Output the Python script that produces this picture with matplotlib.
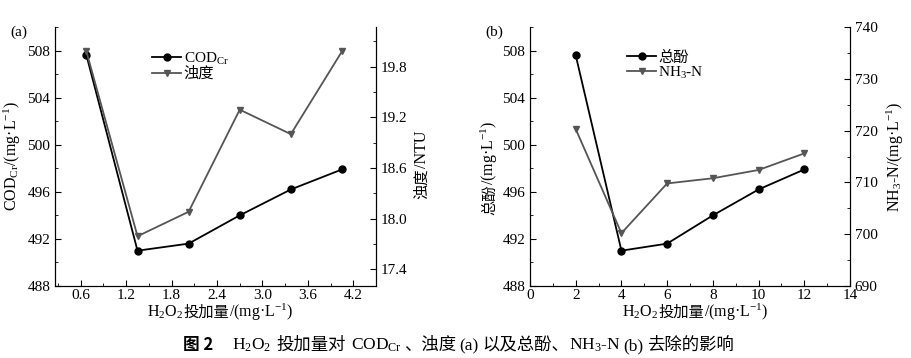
import matplotlib
matplotlib.use("Agg")
from matplotlib import pyplot as plt
from matplotlib.ticker import MultipleLocator

LS = 'Liberation Serif'
CJK = 'Noto Sans CJK SC'
plt.rcParams['font.family'] = [LS, CJK]
plt.rcParams['mathtext.fontset'] = 'custom'
plt.rcParams['mathtext.rm'] = LS
plt.rcParams['mathtext.it'] = LS + ':italic'
plt.rcParams['font.size'] = 11

# 数据
dose_a = [0.675, 1.35, 2.025, 2.7, 3.375, 4.05]
cod = [507.6, 491.0, 491.6, 494.0, 496.2, 497.9]
turb = [19.98, 17.79, 18.08, 19.29, 19.0, 19.98]

dose_b = [2, 4, 6, 8, 10, 12]
phenol = [507.6, 491.0, 491.6, 494.0, 496.2, 497.9]
nh3n = [720.3, 700.2, 709.8, 710.8, 712.4, 715.6]

gray = '#555555'
W, H = 911, 358

fig = plt.figure(figsize=(9.11, 3.58), dpi=100)
ax1 = fig.add_axes([55/W, 72/H, 321/W, 259/H])
ax2 = fig.add_axes([530/W, 72/H, 320/W, 259/H])
rend = fig.canvas.get_renderer()


def rich(x, y, pieces, rot=0, ha='center'):
    # 拼接混合字体文字, x/y 为像素(自上而下), y 为基线
    items = []
    total = 0
    for p in pieces:
        if isinstance(p, (int, float)):
            items.append((None, p))
            total += p
            continue
        s, size, fam, wt = p
        t = fig.text(0, 0, s, fontsize=size, family=fam, fontweight=wt,
                     rotation=rot, rotation_mode='anchor', ha='left', va='baseline')
        bb = t.get_window_extent(rend)
        w = bb.width if rot == 0 else bb.height
        items.append((t, w))
        total += w
    pos = -total / 2 if ha == 'center' else 0
    for t, w in items:
        if t is not None:
            if rot == 0:
                t.set_position(((x + pos) / W, 1 - y / H))
            else:
                t.set_position((x / W, 1 - (y - pos) / H))
        pos += w


def style(ax):
    ax.spines['top'].set_visible(False)
    ax.tick_params(which='both', direction='in', labelsize=11)
    ax.tick_params(which='major', length=4)
    ax.tick_params(which='minor', length=2.5)
    ax.tick_params(axis='x', pad=2.5)


def xlab(ax):
    bb = ax.get_position()
    cx = (bb.x0 + bb.x1) / 2 * W + 5
    rich(cx, 317, [(r'H$_\mathrm{2}$O$_\mathrm{2}$', 11.5, LS, 'normal'),
                   ('投加量', 11, CJK, 'normal'),
                   (r'/(mg·L$^\mathrm{-1}$)', 11.5, LS, 'normal')])


# (a)
l1, = ax1.plot(dose_a, cod, color='black', marker='o', markersize=5, linewidth=1.3)
ax1r = ax1.twinx()
l2, = ax1r.plot(dose_a, turb, color=gray, marker='v', markersize=5, linewidth=1.3)
ax1.set_xlim(0.26, 4.5)
ax1.set_ylim(488, 510)
ax1r.set_ylim(17.2, 20.27)
ax1.xaxis.set_minor_locator(MultipleLocator(0.3))
ax1.set_xticks([0.6, 1.2, 1.8, 2.4, 3.0, 3.6, 4.2])
ax1.yaxis.set_major_locator(MultipleLocator(4))
ax1.yaxis.set_minor_locator(MultipleLocator(2))
ax1r.yaxis.set_minor_locator(MultipleLocator(0.3))
ax1r.set_yticks([17.4, 18.0, 18.6, 19.2, 19.8])
for a in (ax1, ax1r):
    style(a)
ax1.set_ylabel(r'COD$_\mathrm{Cr}$/(mg·L$^\mathrm{-1}$)', labelpad=3, fontsize=11.5)
ax1.text(-0.14, 0.965, '(a)', transform=ax1.transAxes, fontsize=11)
ax1.legend([l1, l2], [r'COD$_\mathrm{Cr}$', '浊度'], frameon=False,
           loc='upper left', bbox_to_anchor=(0.27, 0.95), handlelength=1.9,
           handletextpad=0.15, labelspacing=0.0, borderpad=0.2, fontsize=11)
xlab(ax1)
rich(426, 165, [('浊度', 11, CJK, 'normal'), ('/NTU', 11.5, LS, 'normal')], rot=90)

# (b)
l3, = ax2.plot(dose_b, phenol, color='black', marker='o', markersize=5, linewidth=1.3)
ax2r = ax2.twinx()
l4, = ax2r.plot(dose_b, nh3n, color=gray, marker='v', markersize=5, linewidth=1.3)
ax2.set_xlim(0, 14)
ax2.set_ylim(488, 510)
ax2r.set_ylim(690, 740)
ax2.xaxis.set_major_locator(MultipleLocator(2))
ax2.xaxis.set_minor_locator(MultipleLocator(1))
ax2.yaxis.set_major_locator(MultipleLocator(4))
ax2.yaxis.set_minor_locator(MultipleLocator(2))
ax2r.yaxis.set_major_locator(MultipleLocator(10))
ax2r.yaxis.set_minor_locator(MultipleLocator(5))
for a in (ax2, ax2r):
    style(a)
ax2r.set_ylabel(r'NH$_\mathrm{3}$-N/(mg·L$^\mathrm{-1}$)', labelpad=5, fontsize=11.5)
ax2.text(-0.14, 0.965, '(b)', transform=ax2.transAxes, fontsize=11)
ax2.legend([l3, l4], ['总酚', r'NH$_\mathrm{3}$-N'], frameon=False,
           loc='upper left', bbox_to_anchor=(0.27, 0.95), handlelength=1.9,
           handletextpad=0.15, labelspacing=0.0, borderpad=0.2, fontsize=11)
xlab(ax2)
rich(494, 168, [('总酚', 11, CJK, 'normal'), (r'/(mg·L$^\mathrm{-1}$)', 11.5, LS, 'normal')], rot=90)

# 图题
fig.text(183 / W, 1 - 350 / H, '图 2', fontsize=12, family=CJK, fontweight='bold',
         ha='left', va='baseline')
cap = [(r'H$_\mathrm{2}$O$_\mathrm{2}$', 12.5, LS, 'normal'), 5,
       ('投加量对', 12.5, CJK, 'normal'), 5,
       (r'COD$_\mathrm{Cr}$', 12.5, LS, 'normal'), 3,
       ('、浊度', 12.5, CJK, 'normal'), 3,
       ('(a)', 12.5, LS, 'normal'), 3,
       ('以及总酚、', 12.5, CJK, 'normal'),
       (r'NH$_\mathrm{3}$-N', 12.5, LS, 'normal'), 3,
       ('(b)', 12.5, LS, 'normal'), 3,
       ('去除的影响', 12.5, CJK, 'normal')]
rich(232, 350, cap, ha='left')

fig.savefig('out.png', dpi=100)
